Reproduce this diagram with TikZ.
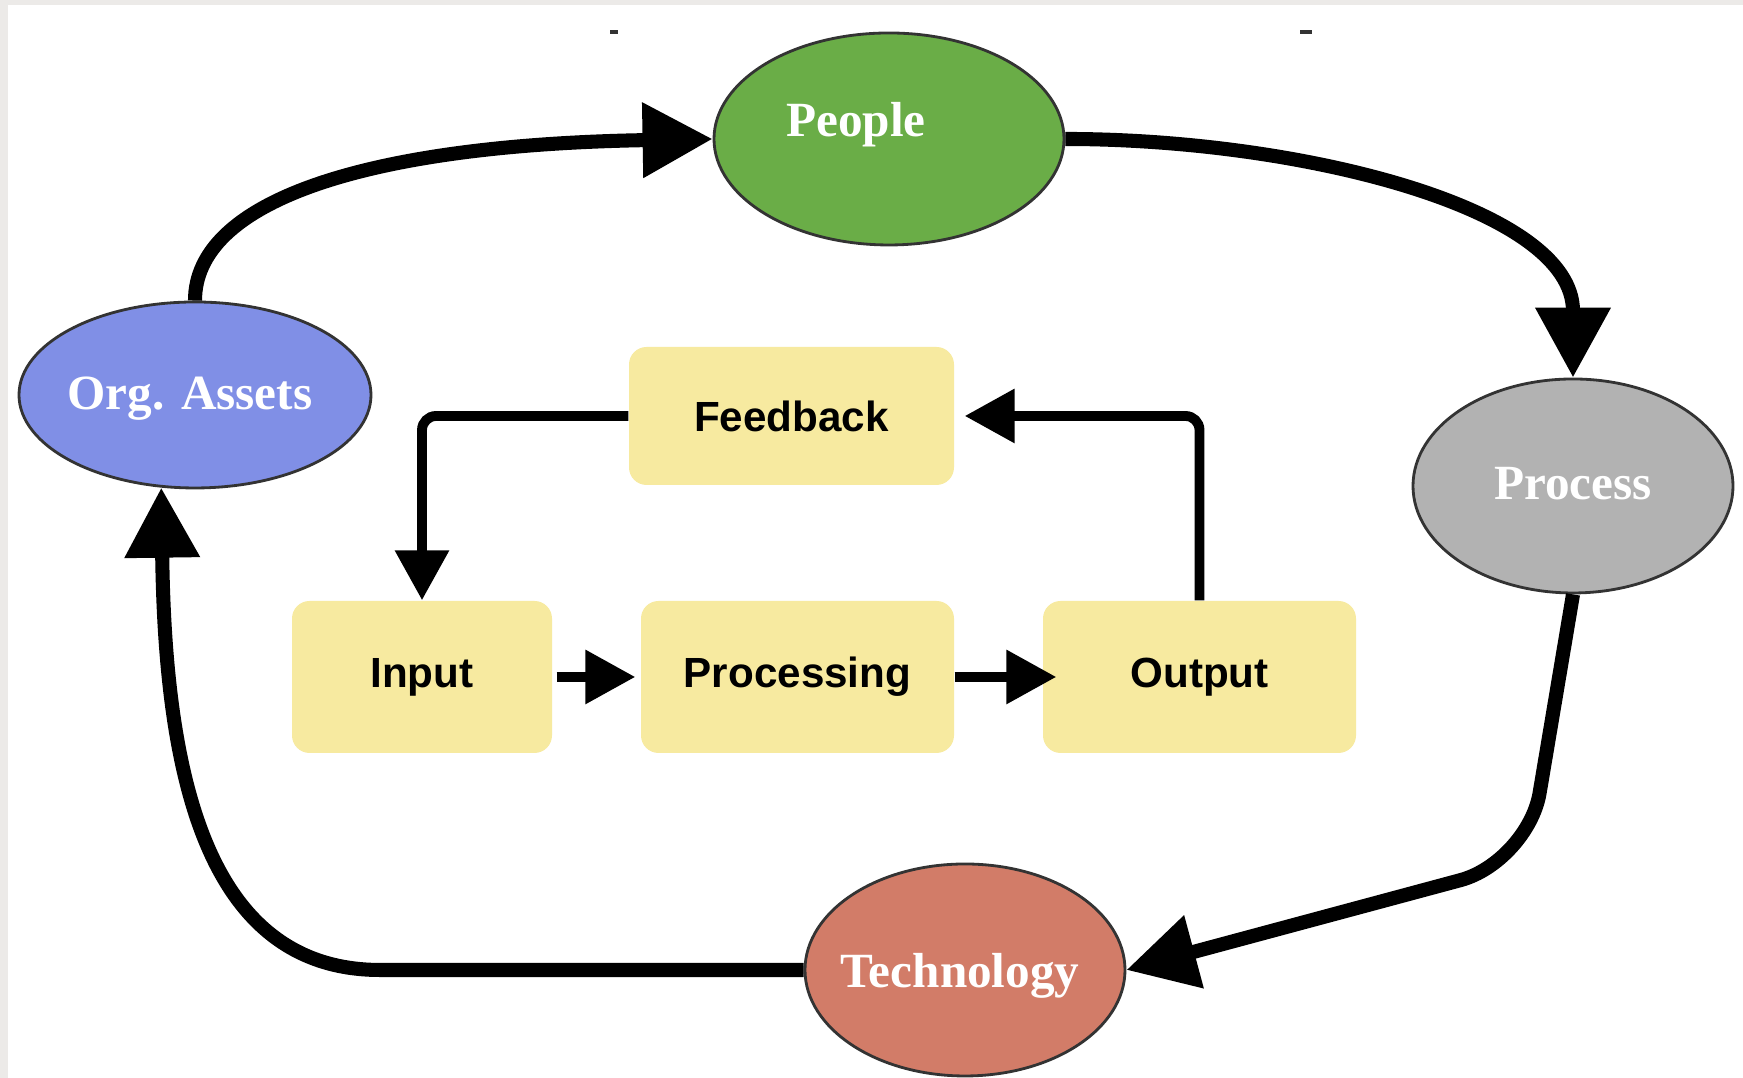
\documentclass[tikz,border=0pt]{standalone}
\usepackage{fontspec}
\setmainfont{Liberation Serif}
\setsansfont{Liberation Sans}
\usepackage{xcolor}
\usepackage{tikz}
\usetikzlibrary{shapes,arrows,positioning,calc,arrows.meta}
\definecolor{peoplegreen}{RGB}{106,173,71}
\definecolor{assetblue}{RGB}{128,143,230}
\definecolor{processgray}{RGB}{178,178,178}
\definecolor{techred}{RGB}{210,124,104}
\definecolor{boxyellow}{RGB}{247,234,160}
\definecolor{edgegray}{RGB}{236,234,232}

\begin{document}
\begin{tikzpicture}[
    oval/.style={ellipse, draw=black!80, line width=0.8pt, inner sep=0pt},
    ovaltext/.style={text=white, font=\fontsize{14}{16}\selectfont\bfseries},
    box/.style={rectangle, rounded corners=5pt, fill=boxyellow, minimum height=1.52cm, font=\sffamily\bfseries\fontsize{12}{14}\selectfont},
    bigarrow/.style={line width=4pt, -{Triangle[length=0.7cm,width=0.72cm]}},
    smallarrow/.style={line width=2.8pt, -{Triangle[length=0.5cm,width=0.52cm]}, rounded corners=4pt}]
    \useasboundingbox (0,0) rectangle (17.43,10.78);
    \fill[white] (0,0) rectangle (17.43,10.78);
    \fill[edgegray] (0,0) rectangle (0.08,10.78);
    \fill[edgegray] (0,10.73) rectangle (17.43,10.78);
    \draw[line width=1pt, black!80] (6.10,10.46) -- (6.18,10.46); % stray marks at the top
    \draw[line width=1pt, black!80] (13.00,10.46) -- (13.12,10.46);

    % outer cycle
    \node[oval, fill=peoplegreen, minimum width=3.5cm, minimum height=2.12cm,
          label={[ovaltext, xshift=-0.33cm, yshift=0.14cm]center:People}] (people) at (8.89,9.39) {};
    \node[oval, fill=processgray, minimum width=3.2cm, minimum height=2.14cm,
          label={[ovaltext, yshift=0.02cm]center:Process}] (proc) at (15.73,5.92) {};
    \node[oval, fill=techred, minimum width=3.2cm, minimum height=2.12cm,
          label={[ovaltext, xshift=-0.05cm, yshift=-0.06cm]center:Technology}] (tech) at (9.65,1.08) {};
    \node[oval, fill=assetblue, minimum width=3.52cm, minimum height=1.86cm,
          label={[ovaltext, xshift=-0.05cm, yshift=-0.04cm]center:Org. Assets}] (org) at (1.95,6.83) {};

    \draw[bigarrow] (org.north) .. controls (1.95,8.75) and (3.60,9.33) .. (people.west);
    \draw[bigarrow] (people.east) .. controls (13.00,9.39) and (15.73,8.70) .. (proc.north);
    \draw[bigarrow, rounded corners=0.7cm] (proc.south) -- (15.28,2.16) -- (tech.east);
    \draw[bigarrow] (tech.west) -- (3.80,1.08) .. controls (2.00,1.08) and (1.65,3.18) .. (org.-110);

    % inner loop
    \node[box, minimum width=3.25cm, minimum height=1.38cm] (feedback) at (7.915,6.62) {Feedback};
    \node[box, minimum width=2.6cm] (input) at (4.22,4.01) {Input};
    \node[box, minimum width=3.13cm] (processing) at (7.975,4.01) {Processing};
    \node[box, minimum width=3.13cm] (output) at (11.995,4.01) {Output};

    \draw[smallarrow, shorten <=0.04cm, shorten >=0.05cm] (input) -- (processing);
    \draw[smallarrow, shorten >=-0.14cm] (processing) -- (output);
    \draw[smallarrow] (output.north) |- ([xshift=0.1cm]feedback.east);
    \draw[smallarrow] (feedback.west) -| (input.north);
\end{tikzpicture}
\end{document}
